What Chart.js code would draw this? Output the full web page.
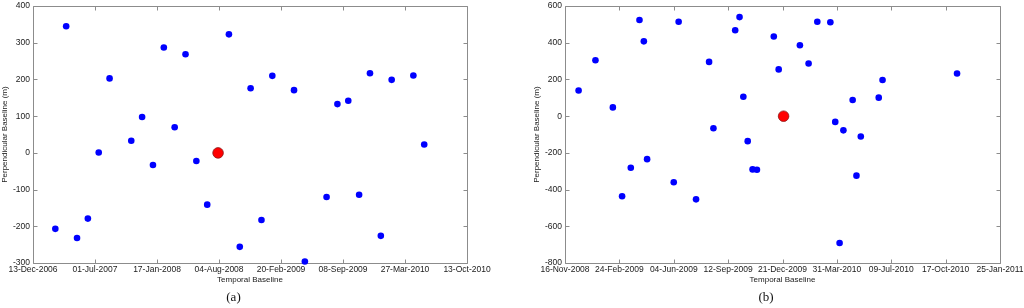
<!DOCTYPE html>
<html>
<head>
<meta charset="utf-8">
<script src="https://cdn.jsdelivr.net/npm/chart.js@4.4.0/dist/chart.umd.min.js"></script>
<style>
body { margin: 0; background: #fff; width: 1024px; height: 308px; overflow: hidden; position: relative; }
canvas { position: absolute; top: 0; }
#chartA { left: 0; }
#chartB { left: 532px; }
</style>
</head>
<body>
<canvas id="chartA" width="512" height="308"></canvas>
<canvas id="chartB" width="492" height="308"></canvas>
<script>
// panel (a): slave acquisitions, perpendicular baseline (m)
var datesA = ['2007-02-23', '2007-03-30', '2007-05-04', '2007-06-08', '2007-07-13', '2007-08-17',
    '2007-10-26', '2007-11-30', '2008-01-04', '2008-02-08', '2008-03-14', '2008-04-18',
    '2008-05-23', '2008-06-27', '2008-09-05', '2008-10-10', '2008-11-14', '2008-12-19',
    '2009-01-23', '2009-04-03', '2009-05-08', '2009-07-17', '2009-08-21', '2009-09-25',
    '2009-10-30', '2009-12-04', '2010-01-08', '2010-02-12', '2010-04-23', '2010-05-28'];
var baselinesA = [-207, 345, -232, -179, 1, 203,
    33, 98, -33, 287, 70, 269,
    -22, -141, 323, -256, 176, -183,
    210, 171, -296, -120, 133, 142,
    -114, 217, -226, 199, 211, 23];
var masterDateA = '2008-08-01';
var masterBaselineA = 0;
var tickLabelsA = ['13-Dec-2006', '01-Jul-2007', '17-Jan-2008', '04-Aug-2008',
    '20-Feb-2009', '08-Sep-2009', '27-Mar-2010', '13-Oct-2010'];

// panel (b)
var datesB = ['2008-12-11', '2009-01-11', '2009-02-12', '2009-03-01', '2009-03-17', '2009-04-02',
    '2009-04-10', '2009-04-16', '2009-06-04', '2009-06-13', '2009-07-15', '2009-08-08',
    '2009-08-16', '2009-09-25', '2009-10-03', '2009-10-10', '2009-10-18', '2009-10-27',
    '2009-11-04', '2009-12-05', '2009-12-14', '2010-01-22', '2010-02-07', '2010-02-23',
    '2010-03-19', '2010-03-28', '2010-04-05', '2010-04-12', '2010-04-29', '2010-05-06',
    '2010-05-14', '2010-06-16', '2010-06-23', '2010-11-07'];
var baselinesB = [140, 305, 48, -436, -281, 524,
    408, -234, -360, 515, -453, 296,
    -66, 468, 540, 106, -136, -290,
    -292, 434, 255, 387, 287, 515,
    512, -31, -691, -77, 88, -324,
    -111, 101, 197, 233];
var masterDateB = '2009-12-23';
var masterBaselineB = 0;
var tickLabelsB = ['16-Nov-2008', '24-Feb-2009', '04-Jun-2009', '12-Sep-2009', '21-Dec-2009',
    '31-Mar-2010', '09-Jul-2010', '17-Oct-2010', '25-Jan-2011'];

var months = ['Jan', 'Feb', 'Mar', 'Apr', 'May', 'Jun', 'Jul', 'Aug', 'Sep', 'Oct', 'Nov', 'Dec'];

function dayOf(iso){
    var p = iso.split('-');
    return Date.UTC(+p[0], +p[1] - 1, +p[2]) / 86400000;
}

function dayOfLabel(label){
    var p = label.split('-');
    return Date.UTC(+p[2], months.indexOf(p[1]), +p[0]) / 86400000;
}

// grey box round the plot with inward ticks on all four sides
var framePlugin = {
    id: 'frame',
    beforeDatasetsDraw: function(chart){
        var ctx = chart.ctx;
        var a = chart.chartArea;
        var xs = chart.scales.x, ys = chart.scales.y;
        var l = Math.round(a.left) + 0.5, r = Math.round(a.right) + 0.5;
        var t = Math.round(a.top) + 0.5, b = Math.round(a.bottom) + 0.5;
        ctx.save();
        ctx.strokeStyle = '#8c8c8c';
        ctx.lineWidth = 1;
        ctx.beginPath();
        ctx.rect(l, t, r - l, b - t);
        xs.ticks.forEach(function(tk){
            var px = Math.round(xs.getPixelForValue(tk.value)) + 0.5;
            ctx.moveTo(px, b); ctx.lineTo(px, b - 4);
            ctx.moveTo(px, t); ctx.lineTo(px, t + 4);
        });
        ys.ticks.forEach(function(tk){
            var py = Math.round(ys.getPixelForValue(tk.value)) + 0.5;
            ctx.moveTo(l, py); ctx.lineTo(l + 4, py);
            ctx.moveTo(r, py); ctx.lineTo(r - 4, py);
        });
        ctx.stroke();
        ctx.restore();
    }
};

function makeChart(id, dates, baselines, masterDate, masterBaseline, tickLabels, yMin, yMax, yStep, panel, padRight){
    var tickDays = tickLabels.map(dayOfLabel);
    var slaves = dates.map(function(d, i){ return {x: dayOf(d), y: baselines[i]}; });

    return new Chart(document.getElementById(id), {
        type: 'scatter',
        data: {
            datasets: [{
                data: slaves,
                pointRadius: 3.3,
                pointBackgroundColor: '#0000ff',
                pointBorderWidth: 0,
                clip: false
            }, {
                data: [{x: dayOf(masterDate), y: masterBaseline}],
                pointRadius: 5.3,
                pointBackgroundColor: '#ff0000',
                pointBorderColor: '#8a1a1a',
                pointBorderWidth: 0.8,
                clip: false
            }]
        },
        options: {
            responsive: false,
            animation: false,
            layout: { padding: { left: 0, right: padRight, top: 5, bottom: 0 } },
            plugins: {
                legend: { display: false },
                tooltip: { enabled: false },
                title: {
                    display: true,
                    position: 'bottom',
                    text: panel,
                    color: '#111',
                    font: { family: 'Liberation Serif', size: 13, weight: 'normal' },
                    padding: { top: 0, bottom: 3 }
                }
            },
            scales: {
                x: {
                    type: 'linear',
                    min: tickDays[0],
                    max: tickDays[tickDays.length - 1],
                    grid: { display: false, drawTicks: false },
                    border: { display: false },
                    afterBuildTicks: function(scale){
                        scale.ticks = tickDays.map(function(v){ return {value: v}; });
                    },
                    afterFit: function(scale){
                        scale.height = 26.4;
                        scale.paddingLeft = 0;
                        scale.paddingRight = 0;
                    },
                    ticks: {
                        autoSkip: false,
                        maxRotation: 0,
                        padding: 2,
                        color: '#1a1a1a',
                        font: { family: 'Liberation Sans', size: 8.5 },
                        callback: function(value, index){ return tickLabels[index]; }
                    },
                    title: {
                        display: true,
                        text: 'Temporal Baseline',
                        color: '#1a1a1a',
                        font: { family: 'Liberation Sans', size: 8 },
                        padding: { top: 0, bottom: 4.6 }
                    }
                },
                y: {
                    min: yMin,
                    max: yMax,
                    grid: { display: false, drawTicks: false },
                    border: { display: false },
                    afterFit: function(scale){
                        scale.width = 33;
                        scale.paddingTop = 0;
                        scale.paddingBottom = 0;
                    },
                    ticks: {
                        stepSize: yStep,
                        padding: 3,
                        color: '#1a1a1a',
                        font: { family: 'Liberation Sans', size: 8.5 }
                    },
                    title: {
                        display: true,
                        text: 'Perpendicular Baseline (m)',
                        color: '#1a1a1a',
                        font: { family: 'Liberation Sans', size: 8 },
                        padding: { top: 0, bottom: 0 }
                    }
                }
            }
        },
        plugins: [framePlugin]
    });
}

makeChart('chartA', datesA, baselinesA, masterDateA, masterBaselineA, tickLabelsA, -300, 400, 100, '(a)', 45);
makeChart('chartB', datesB, baselinesB, masterDateB, masterBaselineB, tickLabelsB, -800, 600, 200, '(b)', 24);
</script>
</body>
</html>
